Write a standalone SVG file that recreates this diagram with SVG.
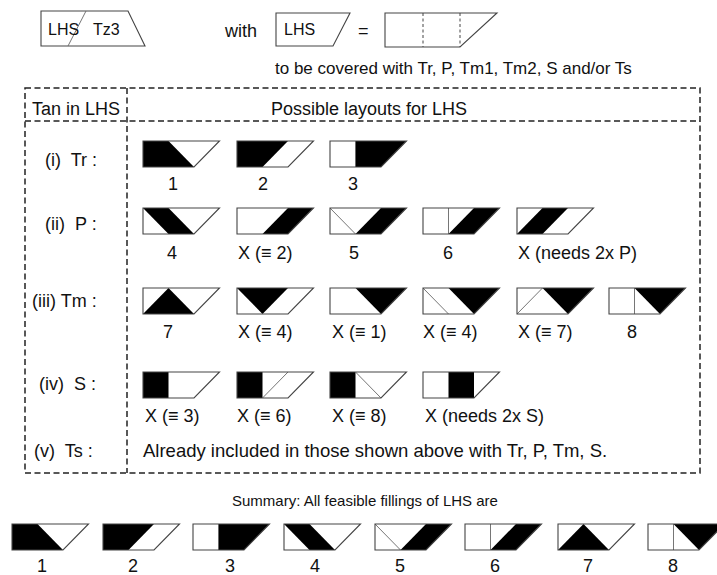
<svg xmlns="http://www.w3.org/2000/svg" width="717" height="575" viewBox="0 0 717 575">
  <style>
    text { font-family: "Liberation Sans", Arial, sans-serif; fill: #111; white-space: pre; }
    .t15 { font-size: 15px; }
    .t16 { font-size: 16px; }
    .t17 { font-size: 17px; }
    .t18 { font-size: 18px; }
    .lbl { font-size: 18px; }
    .sum { font-size: 18px; text-anchor: middle; }
    .num { text-anchor: middle; }
    .outline { fill: none; stroke: #444; stroke-width: 1.1; stroke-linejoin: miter; }
    .thin { fill: none; stroke: #666; stroke-width: 0.9; }
    .blk { fill: #000; stroke: none; }
    .dash { fill: none; stroke: #222; stroke-width: 1.5; stroke-dasharray: 6 3.5; }
    .dashthin { fill: none; stroke: #444; stroke-width: 1; stroke-dasharray: 3 2.5; }
  </style>
  <defs>
    <!-- LHS outline: two unit squares plus a right triangle, unit 25.5 x 26 -->
    <path id="lhs" class="outline" d="M0,0 H76.5 L51,26 H0 Z"/>
    <!-- filled tans -->
    <polygon id="f1" class="blk" points="0,0 25.5,0 51,26 0,26"/>
    <polygon id="f2" class="blk" points="0,0 51,0 25.5,26 0,26"/>
    <polygon id="f3" class="blk" points="25.5,0 76.5,0 51,26 25.5,26"/>
    <polygon id="pA" class="blk" points="0,0 25.5,0 51,26 25.5,26"/>
    <polygon id="pR" class="blk" points="51,0 76.5,0 51,26 25.5,26"/>
    <polygon id="pM" class="blk" points="25.5,0 51,0 25.5,26 0,26"/>
    <polygon id="tUp" class="blk" points="25.5,0 51,26 0,26"/>
    <polygon id="tDL" class="blk" points="0,0 51,0 25.5,26"/>
    <polygon id="tDR" class="blk" points="25.5,0 76.5,0 51,26"/>
    <rect id="sL" class="blk" x="0" y="0" width="25.5" height="26"/>
    <rect id="sM" class="blk" x="25.5" y="0" width="25.5" height="26"/>
    <!-- internal edges -->
    <path id="dA" class="thin" d="M0,0 L25.5,26"/>
    <path id="dB" class="thin" d="M0,26 L25.5,0"/>
    <path id="dC" class="thin" d="M25.5,26 L51,0"/>
    <path id="dD" class="thin" d="M25.5,0 L51,26"/>
    <path id="vL" class="thin" d="M25.5,0 V26"/>
  </defs>

  <!-- statement at the top -->
  <g id="tz3-statement">
    <path class="outline" d="M41,11 H128 L145,46 H41 Z"/>
    <path class="thin" d="M68,46 L86,11"/>
    <text class="t16" x="48" y="35">LHS</text>
    <text class="t16" x="93" y="35">Tz3</text>
  </g>
  <text class="t18" x="225" y="37">with</text>
  <g id="lhs-small">
    <path class="outline" d="M276,13 H350 L333,46 H276 Z"/>
    <text class="t16" x="284" y="35">LHS</text>
  </g>
  <text class="t18" x="358" y="37">=</text>
  <g id="lhs-split">
    <path class="outline" d="M385,13 H497 L460,47 H385 Z"/>
    <path class="dashthin" d="M423,13 V47 M460,13 V47"/>
  </g>
  <text class="t17" x="275" y="74">to be covered with Tr, P, Tm1, Tm2, S and/or Ts</text>

  <!-- table frame -->
  <g id="table">
    <rect class="dash" x="25" y="88" width="675" height="385"/>
    <path class="dash" d="M25,121 H700 M127,88 V473"/>
    <text class="t18" x="32" y="115">Tan in LHS</text>
    <text class="t18" x="271" y="115">Possible layouts for LHS</text>
  </g>

  <!-- row labels -->
  <g id="row-labels">
    <text class="lbl" x="45" y="166">(i)  Tr :</text>
    <text class="lbl" x="45" y="230">(ii)  P :</text>
    <text class="lbl" x="32" y="307">(iii) Tm :</text>
    <text class="lbl" x="39" y="390">(iv)  S :</text>
    <text class="lbl" x="34" y="457">(v)  Ts :</text>
  </g>

  <!-- (i) Tr -->
  <g id="tr-1" transform="translate(143,141)"><use href="#f1"/><use href="#lhs"/></g>
  <g id="tr-2" transform="translate(237,141)"><use href="#f2"/><use href="#lhs"/></g>
  <g id="tr-3" transform="translate(330,141)"><use href="#f3"/><use href="#vL"/><use href="#lhs"/></g>
  <text class="lbl num" x="173" y="190">1</text>
  <text class="lbl num" x="263" y="190">2</text>
  <text class="lbl num" x="353" y="190">3</text>

  <!-- (ii) P -->
  <g id="p-4" transform="translate(143,208)"><use href="#pA"/><use href="#lhs"/></g>
  <g id="p-x2" transform="translate(237,208)"><use href="#pR"/><use href="#lhs"/></g>
  <g id="p-5" transform="translate(330,208)"><use href="#pR"/><use href="#dA"/><use href="#lhs"/></g>
  <g id="p-6" transform="translate(423,208)"><use href="#pR"/><use href="#vL"/><use href="#lhs"/></g>
  <g id="p-x2p" transform="translate(517,208)"><use href="#pM"/><use href="#lhs"/></g>
  <text class="lbl num" x="172" y="259">4</text>
  <text class="lbl" x="238" y="259">X (≡ 2)</text>
  <text class="lbl num" x="354" y="259">5</text>
  <text class="lbl num" x="448" y="259">6</text>
  <text class="lbl" x="518" y="259">X (needs 2x P)</text>

  <!-- (iii) Tm -->
  <g id="tm-7" transform="translate(143,288)"><use href="#tUp"/><use href="#lhs"/></g>
  <g id="tm-x4a" transform="translate(237,288)"><use href="#tDL"/><use href="#lhs"/></g>
  <g id="tm-x1" transform="translate(330,288)"><use href="#tDR"/><use href="#lhs"/></g>
  <g id="tm-x4b" transform="translate(423,288)"><use href="#tDR"/><use href="#dA"/><use href="#lhs"/></g>
  <g id="tm-x7" transform="translate(517,288)"><use href="#tDR"/><use href="#dB"/><use href="#lhs"/></g>
  <g id="tm-8" transform="translate(609,288)"><use href="#tDR"/><use href="#vL"/><use href="#lhs"/></g>
  <text class="lbl num" x="168" y="338">7</text>
  <text class="lbl" x="238" y="338">X (≡ 4)</text>
  <text class="lbl" x="332" y="338">X (≡ 1)</text>
  <text class="lbl" x="423" y="338">X (≡ 4)</text>
  <text class="lbl" x="518" y="338">X (≡ 7)</text>
  <text class="lbl num" x="632" y="338">8</text>

  <!-- (iv) S -->
  <g id="s-x3" transform="translate(143,372)"><use href="#sL"/><use href="#lhs"/></g>
  <g id="s-x6" transform="translate(237,372)"><use href="#sL"/><use href="#dC"/><use href="#lhs"/></g>
  <g id="s-x8" transform="translate(330,372)"><use href="#sL"/><use href="#dD"/><use href="#lhs"/></g>
  <g id="s-x2s" transform="translate(423,372)"><use href="#sM"/><use href="#lhs"/></g>
  <text class="lbl" x="145" y="422">X (≡ 3)</text>
  <text class="lbl" x="237" y="422">X (≡ 6)</text>
  <text class="lbl" x="332" y="422">X (≡ 8)</text>
  <text class="lbl" x="425" y="422">X (needs 2x S)</text>

  <!-- (v) Ts -->
  <text class="lbl" x="143" y="457" style="font-size:18.5px">Already included in those shown above with Tr, P, Tm, S.</text>

  <!-- summary -->
  <text class="t15" x="365" y="506" text-anchor="middle">Summary: All feasible fillings of LHS are</text>
  <g id="sum-1" transform="translate(12,524)"><use href="#f1"/><use href="#lhs"/></g>
  <g id="sum-2" transform="translate(103,524)"><use href="#f2"/><use href="#lhs"/></g>
  <g id="sum-3" transform="translate(193,524)"><use href="#f3"/><use href="#vL"/><use href="#lhs"/></g>
  <g id="sum-4" transform="translate(284,524)"><use href="#pA"/><use href="#lhs"/></g>
  <g id="sum-5" transform="translate(375,524)"><use href="#pR"/><use href="#dA"/><use href="#lhs"/></g>
  <g id="sum-6" transform="translate(465,524)"><use href="#pR"/><use href="#vL"/><use href="#lhs"/></g>
  <g id="sum-7" transform="translate(558,524)"><use href="#tUp"/><use href="#lhs"/></g>
  <g id="sum-8" transform="translate(648,524)"><use href="#tDR"/><use href="#vL"/><use href="#lhs"/></g>
  <text class="sum" x="42" y="572">1</text>
  <text class="sum" x="133" y="572">2</text>
  <text class="sum" x="230" y="572">3</text>
  <text class="sum" x="315" y="572">4</text>
  <text class="sum" x="400" y="572">5</text>
  <text class="sum" x="495" y="572">6</text>
  <text class="sum" x="588" y="572">7</text>
  <text class="sum" x="673" y="572">8</text>
</svg>
